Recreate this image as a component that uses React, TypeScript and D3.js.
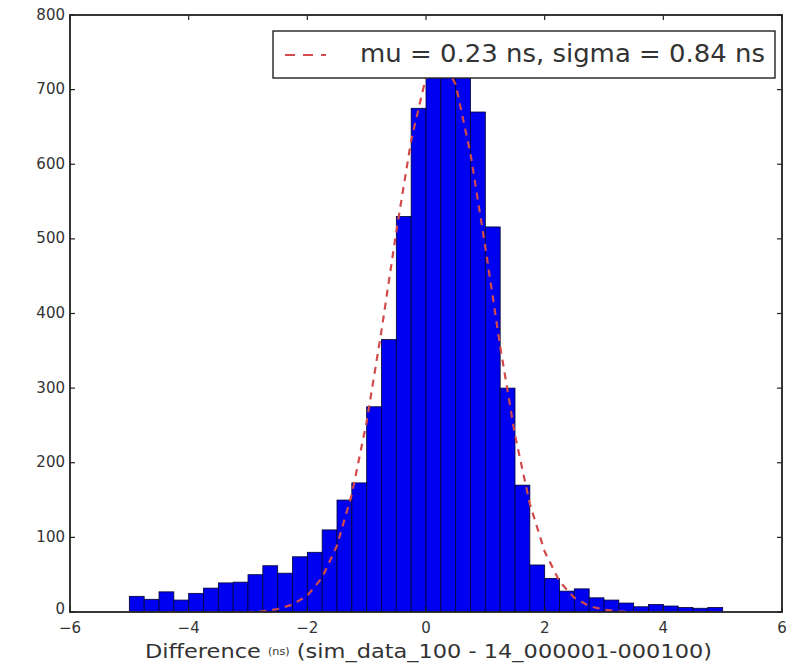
import React from "react";
import * as d3 from "d3";

// Histogram: bin edges from -5 to 5, width 0.25
const binStart = -5;
const binWidth = 0.25;
const counts = [
  21, 17, 27, 16, 25, 32, 39, 40, 50, 62, 52, 74, 80,
  110, 150, 173, 275, 365, 530, 675,
  740, 765, 745,
  670, 516, 300, 170, 63, 45, 28, 31, 19, 16, 12, 7, 10, 8, 6, 5, 6,
];

// Fitted gaussian (dashed), sampled at bin edges
const fitX = d3.range(41).map((i) => binStart + i * binWidth);
const fitY = [
  0, 0, 0, 0, 0, 0, 0, 0, 0, 1, 4, 10, 22, 46, 89, 158, 255, 377, 510, 632,
  717, 744, 707, 614, 489, 356, 237, 145, 81, 41, 19, 8, 3, 1, 0, 0, 0, 0, 0, 0, 0,
];

const xTicks = [-6, -4, -2, 0, 2, 4, 6];
const yTicks = [0, 100, 200, 300, 400, 500, 600, 700, 800];
const legendLabel = "mu = 0.23 ns, sigma = 0.84 ns";

const W = 803;
const H = 666;
const L = 70, R = 782, T = 15, B = 612;

const fmt = (v: number) => (v < 0 ? "\u2212" + Math.abs(v) : String(v));

export default function App() {
  const x = d3.scaleLinear().domain([-6, 6]).range([L, R]);
  const y = d3.scaleLinear().domain([0, 800]).range([B, T]);
  const line = d3
    .line<number>()
    .x((_, i) => x(fitX[i]))
    .y((d) => y(d));
  const font = "DejaVu Sans, sans-serif";
  const tickLen = 5;
  const red = "#d24a4a";
  return (
    <div style={{ position: "absolute", left: 0, top: 0 }}>
      <svg width={W} height={H} style={{ display: "block", background: "#fff" }}>
        <defs>
          <clipPath id="plotclip">
            <rect x={L} y={T} width={R - L} height={B - T} />
          </clipPath>
        </defs>
        <g clipPath="url(#plotclip)">
          {counts.map((c, i) => {
            const x0 = binStart + i * binWidth;
            return (
              <rect
                key={i}
                x={x(x0)}
                y={y(c)}
                width={x(x0 + binWidth) - x(x0)}
                height={y(0) - y(c)}
                fill="#0000f0"
                stroke="#000033"
                strokeWidth={0.8}
              />
            );
          })}
          <path
            d={line(fitY) || ""}
            fill="none"
            stroke={red}
            strokeWidth={2.2}
            strokeDasharray="7,6"
          />
        </g>
        {/* frame */}
        <rect x={L} y={T} width={R - L} height={B - T} fill="none" stroke="#222" strokeWidth={1.8} />
        {/* x ticks */}
        {xTicks.map((t) => (
          <g key={"x" + t}>
            <line x1={x(t)} x2={x(t)} y1={B} y2={B - tickLen} stroke="#222" strokeWidth={1.2} />
            <line x1={x(t)} x2={x(t)} y1={T} y2={T + tickLen} stroke="#222" strokeWidth={1.2} />
            <text
              x={x(t)}
              y={B + 16}
              textAnchor="middle"
              dominantBaseline="middle"
              fontFamily={font}
              fontSize={15}
              fill="#333"
            >
              {fmt(t)}
            </text>
          </g>
        ))}
        {/* y ticks */}
        {yTicks.map((t) => (
          <g key={"y" + t}>
            <line x1={L} x2={L + tickLen} y1={y(t)} y2={y(t)} stroke="#222" strokeWidth={1.2} />
            <line x1={R} x2={R - tickLen} y1={y(t)} y2={y(t)} stroke="#222" strokeWidth={1.2} />
            <text
              x={L - 5}
              y={t === 0 ? y(t) - 3 : y(t)}
              textAnchor="end"
              dominantBaseline="middle"
              fontFamily={font}
              fontSize={15}
              fill="#333"
            >
              {t}
            </text>
          </g>
        ))}
        {/* x label */}
        <text
          x={145}
          y={B + 40}
          textAnchor="start"
          dominantBaseline="middle"
          fontFamily={font}
          fontSize={20}
          fill="#333"
          textLength={567}
          lengthAdjust="spacingAndGlyphs"
        >
          Difference <tspan fontSize={10}>(ns)</tspan> (sim_data_100 - 14_000001-000100)
        </text>
        {/* legend */}
        <g>
          <rect x={273} y={31} width={502} height={47} fill="#fff" stroke="#222" strokeWidth={1.4} />
          <line x1={285} x2={326} y1={55} y2={55} stroke={red} strokeWidth={2.2} strokeDasharray="10,8" />
          <text
            x={360}
            y={55}
            textAnchor="start"
            dominantBaseline="middle"
            fontFamily={font}
            fontSize={24}
            fill="#333"
            textLength={405}
            lengthAdjust="spacingAndGlyphs"
          >
            {legendLabel}
          </text>
        </g>
      </svg>
    </div>
  );
}
